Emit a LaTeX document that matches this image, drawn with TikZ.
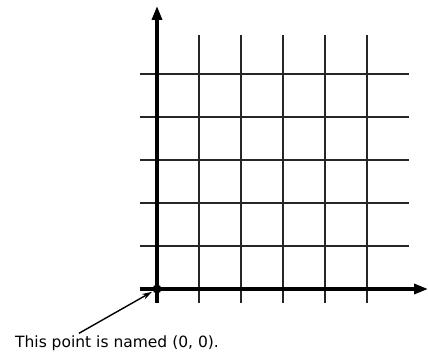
\documentclass[tikz,border=0pt]{standalone}
\usepackage{fontspec}
\setmainfont{DejaVu Sans}
\usetikzlibrary{arrows.meta,positioning,calc}

\begin{document}
\begin{tikzpicture}[x=1pt, y=1pt,
  gridline/.style={line width=1.6pt, black!85},
  axis/.style={line width=3.2pt, -{Triangle[length=14pt, width=10pt]}},
  pointer/.style={line width=1.4pt, -{Stealth[length=10pt, width=6pt]}, shorten >=1pt},
  dot/.style={circle, fill, inner sep=0pt, minimum size=9pt},
  caption/.style={font=\fontsize{15.5}{18}\selectfont, inner sep=0pt}
]
  \useasboundingbox (-157,-67) rectangle (271,289);

  % grid
  \foreach \i in {1,...,5} {
    \draw[gridline] (\i*42,-14) -- (\i*42,254);
    \draw[gridline] (-17,\i*43) -- (252,\i*43);
  }

  % axes
  \draw[axis] (-17,0) -- (271,0);
  \draw[axis] (0,-14) -- (0,283);

  \node[dot] (origin) at (0,0) {};
  \node[caption] (label) at (-40,-54) {This point is named (0, 0).};

  \draw[pointer] ([xshift=64pt, yshift=2pt]label.north west) -- (origin);
\end{tikzpicture}
\end{document}
